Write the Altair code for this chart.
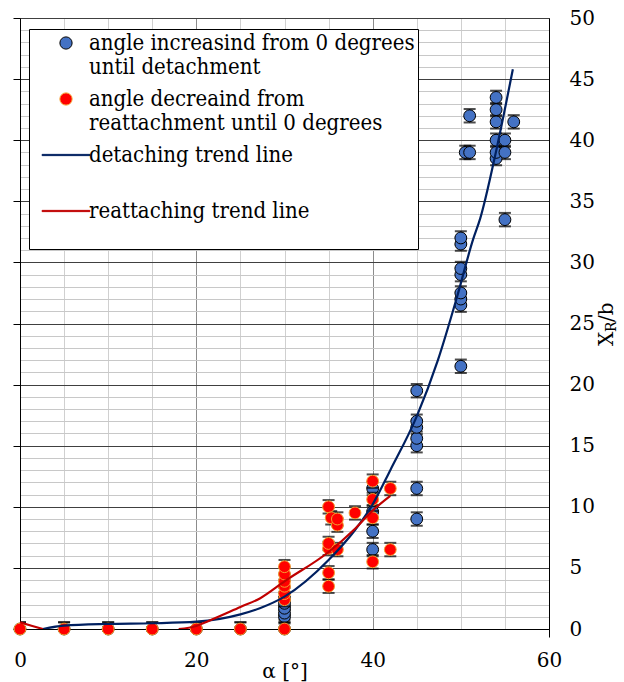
import altair as alt
import pandas as pd

# ---- angle increasing from 0 degrees until detachment -----------------------
inc_alpha = [0, 5, 10, 15, 20, 25,
             30, 30, 30, 30, 30, 30,
             40, 40, 40, 40,
             45, 45, 45, 45, 45, 45, 45,
             50, 50, 50, 50, 50, 50, 50, 50,
             50.5, 51, 51,
             54, 54, 54, 54, 54, 54,
             55, 55, 55,
             56]
inc_xr = [0, 0, 0, 0, 0, 0,
          0, 1.0, 1.3, 1.7, 2.1, 2.5,
          6.5, 8.0, 9.6, 11.5,
          9.0, 11.5, 15.0, 15.6, 16.5, 17.0, 19.5,
          21.5, 26.5, 27.0, 27.5, 29.0, 29.5, 31.5, 32.0,
          39.0, 39.0, 42.0,
          38.5, 39.0, 40.0, 41.5, 42.5, 43.5,
          33.5, 39.0, 40.0,
          41.5]

# ---- angle decreasing from reattachment until 0 degrees ---------------------
dec_alpha = [0, 5, 10, 15, 20, 25,
             30, 30, 30, 30, 30, 30, 30,
             35, 35, 35, 35, 35, 35.3, 36, 36, 36, 38,
             40, 40, 40, 40,
             42, 42]
dec_xr = [0, 0, 0, 0, 0, 0,
          0, 2.4, 2.9, 3.5, 3.9, 4.5, 5.1,
          3.5, 4.6, 6.6, 7.0, 10.0, 9.1, 6.5, 8.5, 9.0, 9.5,
          5.5, 9.1, 10.6, 12.1,
          6.5, 11.5]

# ---- trend lines, sampled along each curve ----------------------------------
det_alpha = [2.6, 5, 10, 15, 20, 25, 27.2, 30, 35, 38, 40, 42, 45, 47.4,
             49.5, 51.4, 52.2, 54, 55.9]
det_xr = [0.0, 0.27, 0.41, 0.47, 0.6, 1.2, 1.7, 2.65, 5.65, 8.1, 10.2, 13.0,
          17.4, 22.0, 27.0, 31.9, 33.6, 39.1, 45.8]

# the reattaching curve drops below zero between its two visible parts
rea_alpha = [0, 1.3, 2.6, 18, 20, 21.2, 25, 27.2, 30, 35, 38, 40, 42]
rea_xr = [0.55, 0.27, 0.0, 0.0, 0.25, 0.6, 1.8, 2.5, 3.9, 6.3, 8.2, 9.7, 10.9]
rea_part = [0, 0, 0, 1, 1, 1, 1, 1, 1, 1, 1, 1, 1]

XR_ERR = 0.55  # half-height of the error bars

SERIES = [
    "angle increasind from 0 degrees\nuntil detachment",
    "angle decreaind from\nreattachment until 0 degrees",
    "detaching trend line\n",
    "reattaching trend line\n",
]
X_LABELS = [0, 20, 40, 60]
Y_LABELS = list(range(0, 51, 5))

FONT = "DejaVu Serif"
FONT_LEGEND = "DejaVu Serif Condensed"
BLUE, RED, NAVY, DARKRED, ORANGE = "#4472C4", "#FF0000", "#002060", "#C00000", "#F5A030"
BAR = "M-3.9,-0.1H3.9V0.1H-3.9Z"  # legend swatch for the trend lines

inc_df = pd.DataFrame({"alpha": inc_alpha, "xr": inc_xr, "series": SERIES[0]})
dec_df = pd.DataFrame({"alpha": dec_alpha, "xr": dec_xr, "series": SERIES[1]})
det_df = pd.DataFrame({"alpha": det_alpha, "xr": det_xr, "series": SERIES[2], "part": 0})
rea_df = pd.DataFrame({"alpha": rea_alpha, "xr": rea_xr, "series": SERIES[3], "part": rea_part})

x_scale = alt.Scale(domain=[0, 60], nice=False, zero=False)
y_scale = alt.Scale(domain=[0, 50], nice=False, zero=False)
fill_scale = alt.Scale(domain=SERIES, range=[BLUE, RED, NAVY, DARKRED])
stroke_scale = alt.Scale(domain=SERIES, range=["#000000", ORANGE, NAVY, DARKRED])
shape_scale = alt.Scale(domain=SERIES, range=["circle", "circle", BAR, BAR])

legend = alt.Legend(
    title=None, orient="none", legendX=9, legendY=11,
    labelExpr="split(datum.label, '\\n')",
    labelFont=FONT_LEGEND, labelFontSize=22, labelColor="black", labelLimit=420,
    labelBaseline="middle", labelOffset=12, symbolOffset=23,
    symbolSize=150, symbolStrokeWidth=1, symbolOpacity=1,
    fillColor="white", strokeColor="black", padding=3, rowPadding=10,
)

X_plain = alt.X("alpha:Q", scale=x_scale, axis=None)

# gridlines, frame on top/left and the outward ticks on the left edge
grid = alt.Chart(inc_df).mark_point(opacity=0).encode(
    x=alt.X("alpha:Q", scale=x_scale, axis=alt.Axis(
        orient="top", values=list(range(0, 61, 5)), grid=True,
        gridColor={"condition": {"test": "datum.value == 20 || datum.value == 40",
                                 "value": "#8c8c8c"}, "value": "#d0d0d0"},
        gridWidth=1, labels=False, ticks=False, domainColor="#404040", title=None)),
    y=alt.Y("xr:Q", scale=y_scale, axis=alt.Axis(
        orient="left", values=list(range(0, 51)), grid=True,
        gridColor={"condition": {"test": "datum.value % 5 === 0", "value": "#404040"},
                   "value": "#c8c8c8"},
        gridWidth=1,
        tickColor={"condition": {"test": "datum.value % 5 === 0", "value": "#000000"},
                   "value": "transparent"},
        tickSize=7, labels=False, domainColor="#000000", title=None)),
)


def error_bars(df):
    base = alt.Chart(df).transform_calculate(
        lo=f"datum.xr - {XR_ERR}", hi=f"datum.xr + {XR_ERR}")
    stem = base.mark_rule(color="black", strokeWidth=1, clip=True).encode(
        x=X_plain, y=alt.Y("lo:Q", scale=y_scale, axis=None), y2="hi:Q")
    lo = base.mark_tick(orient="horizontal", color="black", size=12, thickness=2,
                        clip=True).encode(
        x=X_plain, y=alt.Y("lo:Q", scale=y_scale, axis=None))
    hi = base.mark_tick(orient="horizontal", color="black", size=12, thickness=2,
                        clip=True).encode(
        x=X_plain, y=alt.Y("hi:Q", scale=y_scale, axis=None))
    return stem + lo + hi


def markers(df):
    return alt.Chart(df).mark_point(filled=True, opacity=1, size=140, strokeWidth=1).encode(
        x=X_plain,
        y=alt.Y("xr:Q", scale=y_scale, axis=None),
        fill=alt.Fill("series:N", scale=fill_scale, legend=legend),
        stroke=alt.Stroke("series:N", scale=stroke_scale, legend=legend),
        shape=alt.Shape("series:N", scale=shape_scale, legend=legend),
    )


# detaching trend line carries the labelled bottom and right axes
det_line = alt.Chart(det_df).mark_line(strokeWidth=2.2, interpolate="monotone", clip=True).encode(
    x=alt.X("alpha:Q", scale=x_scale, axis=alt.Axis(
        orient="bottom", values=X_LABELS, grid=False,
        tickColor={"condition": {"test": "datum.value == 60", "value": "#000000"},
                   "value": "transparent"},
        tickSize=8, labelFont=FONT, labelFontSize=20, labelColor="black",
        labelPadding=13, labelFlush=False, labelOverlap=False, domainColor="#000000",
        title="α [°]", titleFont=FONT, titleFontSize=20, titleFontWeight="normal",
        titleColor="black", titleY=48, titleBaseline="alphabetic")),
    y=alt.Y("xr:Q", scale=y_scale, axis=alt.Axis(
        orient="right", values=Y_LABELS, grid=False, ticks=False,
        labelFont=FONT, labelFontSize=20, labelColor="black", labelAlign="left",
        labelPadding=20, labelFlush=False, labelOverlap=False,
        domainColor="#000000", title=None)),
    stroke=alt.Stroke("series:N", scale=stroke_scale, legend=None),
)

rea_line = alt.Chart(rea_df).mark_line(strokeWidth=2.2, interpolate="monotone", clip=True).encode(
    x=X_plain,
    y=alt.Y("xr:Q", scale=y_scale, axis=None),
    stroke=alt.Stroke("series:N", scale=stroke_scale, legend=None),
    detail="part:N",
)

# y-axis title X_R/b with a subscript R, to the right of the tick labels
one = pd.DataFrame({"k": [0]})
title_parts = [("X", 20, 593, 328), ("R", 14, 596, 314), ("/b", 20, 593, 304)]
y_title = [
    alt.Chart(one).mark_text(text=t, font=FONT, fontSize=fs, angle=270, align="left",
                             baseline="alphabetic", color="black").encode(
        x=alt.value(px), y=alt.value(py))
    for t, fs, px, py in title_parts
]

chart = alt.layer(
    grid,
    error_bars(inc_df), markers(inc_df),
    error_bars(dec_df), markers(dec_df),
    det_line, rea_line,
    *y_title,
).resolve_axis(x="independent", y="independent").properties(
    width=529, height=611,
    autosize=alt.AutoSizeParams(type="none"),
    padding={"left": 20, "top": 18, "right": 75, "bottom": 53},
).configure_view(stroke=None).configure(background="white")

chart.save("out.html", embed_options={"renderer": "svg", "actions": False})
